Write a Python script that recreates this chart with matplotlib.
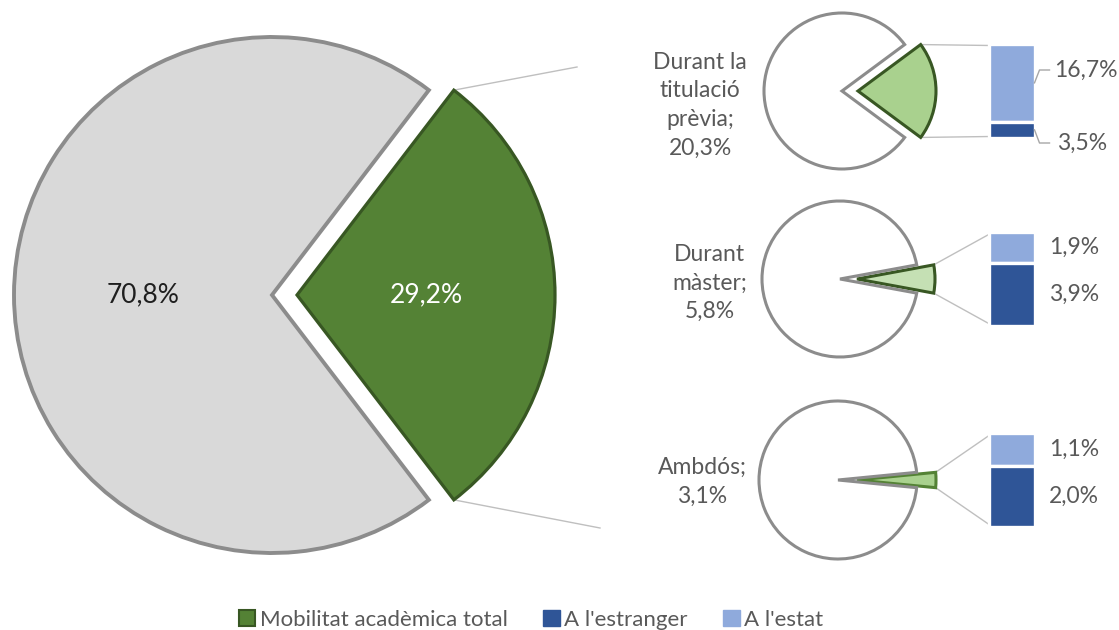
import matplotlib
matplotlib.use("Agg")
import matplotlib.pyplot as plt
from matplotlib.patches import Patch
import numpy as np

plt.rcParams['font.family'] = ['Lato', 'DejaVu Sans']

# main pie: total academic mobility vs the rest
main_values = [29.2, 70.8]
# breakdown of the mobility slice
group_labels = ['Durant la\ntitulació\nprèvia', 'Durant\nmàster', 'Ambdós']
group_totals = [20.3, 5.8, 3.1]
abroad = [3.5, 3.9, 2.0]      # A l'estranger
domestic = [16.7, 1.9, 1.1]   # A l'estat
legend_labels = ['Mobilitat acadèmica total', "A l'estranger", "A l'estat"]

GREY_FILL = '#d9d9d9'
GREY_EDGE = '#8c8c8c'
GREEN = '#548235'
GREEN_DARK = '#385723'
BLUE_DARK = '#2f5597'
BLUE_LIGHT = '#8faadc'
TEXT = '#595959'
FS = 16.5


def fmt(v):
    return f'{v:.1f}%'.replace('.', ',')


fig = plt.figure(figsize=(11.19, 6.30), dpi=100)
ax = fig.add_axes([0, 0, 1, 1])

# big pie, layout in pixel units (y grows downward)
big_c = (272, 295)
big_r = 258
big_expl = 25
half = main_values[0] * 3.6 / 2
wedges, _, autotexts = ax.pie(main_values, center=big_c, radius=big_r,
                              explode=[big_expl, 0], startangle=-half,
                              colors=[GREEN, GREY_FILL],
                              autopct=fmt, pctdistance=0.5,
                              textprops=dict(fontsize=19))
wedges[0].set_edgecolor(GREEN_DARK)
wedges[0].set_linewidth(2.3)
wedges[1].set_edgecolor(GREY_EDGE)
wedges[1].set_linewidth(2.8)
autotexts[0].set_color('white')
autotexts[1].set_color('#1f1f1f')

# connectors from the big green slice toward the small pies
gx = big_c[0] + big_expl + big_r * np.cos(np.radians(half))
gy = big_r * np.sin(np.radians(half))
ax.plot([gx, 577], [big_c[1] - gy, 67], color='#bfbfbf', lw=1, zorder=0)
ax.plot([gx, 600], [big_c[1] + gy, 528], color='#bfbfbf', lw=1, zorder=0)

# small pies with stacked bars
small_c = [(842, 91), (840, 279), (838, 480)]
small_r = [78, 78, 79]
small_expl = [16, 17, 19]
small_fill = ['#a9d18e', '#c5e0b4', '#a9d18e']
small_edge = [GREEN_DARK, GREEN_DARK, GREEN]
bar_x, bar_w, bar_h = 1011.5, 46, 94

for i in range(3):
    cx, cy = small_c[i]
    r = small_r[i]
    g = group_totals[i]
    h = g * 3.6 / 2
    w, _ = ax.pie([g, 100 - g], center=(cx, cy), radius=r,
                  explode=[small_expl[i], 0], startangle=-h,
                  colors=[small_fill[i], 'white'])
    w[0].set_edgecolor(small_edge[i])
    w[0].set_linewidth(2.2)
    w[1].set_edgecolor(GREY_EDGE)
    w[1].set_linewidth(2.2)

    ax.text(747, cy + [14, 4, 2][i], group_labels[i] + ';\n' + fmt(g),
            ha='right', va='center', multialignment='center',
            fontsize=FS, color=TEXT, linespacing=1.45)

    # stacked bar: domestic on top, abroad below
    tot = domestic[i] + abroad[i]
    top = cy - bar_h / 2
    h1 = domestic[i] / tot * bar_h
    h2 = abroad[i] / tot * bar_h
    ax.bar(bar_x, h1, bottom=top, width=bar_w, color=BLUE_LIGHT,
           edgecolor='white', linewidth=2.4)
    ax.bar(bar_x, h2, bottom=top + h1, width=bar_w, color=BLUE_DARK,
           edgecolor='white', linewidth=2.4)

    # lines joining the green slice to the bar
    px = cx + small_expl[i] + r * np.cos(np.radians(h))
    py = r * np.sin(np.radians(h))
    left = bar_x - bar_w / 2 + 2
    ax.plot([px, left], [cy - py, top + 1.5], color='#bfbfbf', lw=1, zorder=0)
    ax.plot([px, left], [cy + py, top + bar_h - 1.5], color='#bfbfbf', lw=1, zorder=0)

    right = bar_x + bar_w / 2
    if i == 0:
        # labels pulled away from the thin segment with leader lines
        y1, y2 = top + h1 / 2, top + h1 + h2 / 2
        ax.plot([right, right + 5, right + 15], [y1, 70, 70], color='#a6a6a6', lw=1)
        ax.plot([right, right + 5, right + 15], [y2, 143, 143], color='#a6a6a6', lw=1)
        ax.text(1054, 70, fmt(domestic[i]), ha='left', va='center', fontsize=FS, color=TEXT)
        ax.text(1057, 143, fmt(abroad[i]), ha='left', va='center', fontsize=FS, color=TEXT)
    else:
        ax.text(1049, top + h1 / 2, fmt(domestic[i]), ha='left', va='center',
                fontsize=FS, color=TEXT)
        ax.text(1049, top + h1 + h2 / 2, fmt(abroad[i]), ha='left', va='center',
                fontsize=FS, color=TEXT)

ax.set_xlim(0, 1119)
ax.set_ylim(630, 0)
ax.set_aspect('auto')
ax.axis('off')

handles = [Patch(facecolor=GREEN, edgecolor=GREEN_DARK, linewidth=1.5),
           Patch(facecolor=BLUE_DARK, edgecolor=BLUE_DARK),
           Patch(facecolor=BLUE_LIGHT, edgecolor=BLUE_LIGHT)]
fig.legend(handles, legend_labels, loc='center', ncol=3,
           bbox_to_anchor=(531 / 1119, 1 - 620 / 630), frameon=False,
           fontsize=16, labelcolor=TEXT, handlelength=0.75, handleheight=0.75,
           handletextpad=0.2, columnspacing=1.6, borderpad=0)

fig.savefig('out.png', dpi=100)
